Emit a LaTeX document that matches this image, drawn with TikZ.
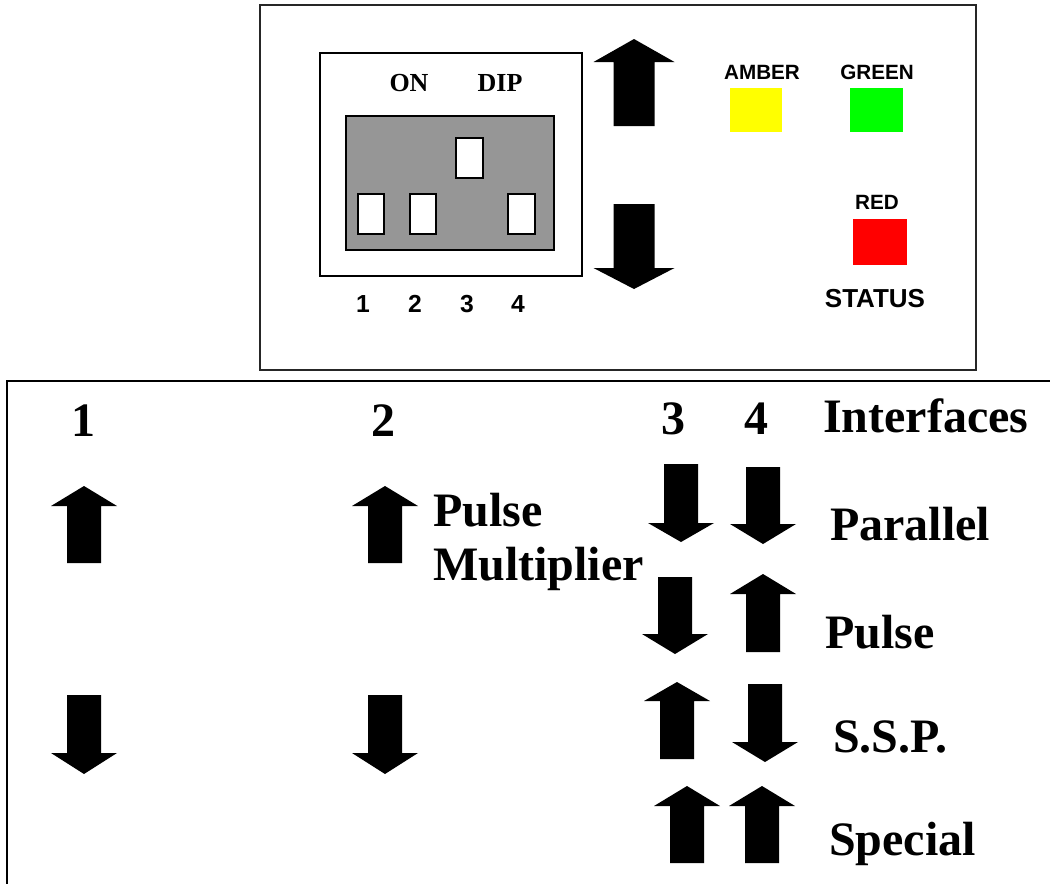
\documentclass[tikz,border=0pt]{standalone}
\usepackage{fontspec}
\setmainfont{Liberation Serif}
\setsansfont{Liberation Sans}
\definecolor{dipgray}{RGB}{150,150,150}
\definecolor{ledamber}{RGB}{255,255,0}
\definecolor{ledgreen}{RGB}{0,255,0}
\definecolor{ledred}{RGB}{255,0,0}
\newcommand{\blockarrow}[6]{%
  \fill[black] (#1-#5,#4) -- (#1-#5,#3) -- (#1-#6,#3) -- (#1,#2) -- (#1+#6,#3) -- (#1+#5,#3) -- (#1+#5,#4) -- cycle;}
\tikzset{
  panel/.style={draw=black!85, line width=1.5pt},
  switchbox/.style={draw=black, fill=white, line width=1.2pt},
  serlab/.style={font=\rmfamily\bfseries\fontsize{19.5}{22}\selectfont, inner sep=0pt, anchor=base},
  diglab/.style={font=\sffamily\bfseries\fontsize{18.5}{22}\selectfont, inner sep=0pt, anchor=base},
  ledlab/.style={font=\sffamily\bfseries\fontsize{15.5}{18}\selectfont, inner sep=0pt, anchor=base},
  statlab/.style={font=\sffamily\bfseries\fontsize{19.5}{22}\selectfont, inner sep=0pt, anchor=base},
  biglab/.style={font=\rmfamily\bfseries\fontsize{36}{40}\selectfont, inner sep=0pt, anchor=base},
  bigleft/.style={biglab, anchor=base west}
}
\begin{document}
\begin{tikzpicture}[x=0.75pt,y=-0.75pt]
\useasboundingbox (0,0) rectangle (1050,883);
% top panel
\draw[panel] (260,5) rectangle (976,370);
\draw[line width=1.2pt] (320,53) rectangle (582,276);
\fill[dipgray] (346,116) rectangle (554,250);
\draw[line width=1.2pt] (346,116) rectangle (554,250);
\draw[switchbox] (358,194) rectangle (384,234);
\draw[switchbox] (410,194) rectangle (436,234);
\draw[switchbox] (456,138) rectangle (483,178);
\draw[switchbox] (508,194) rectangle (535,234);
\node[serlab] (on) at (409,91) {ON};
\node[serlab] (dip) at (500,91) {DIP};
\node[diglab] (d1) at (363,312) {1};
\node[diglab] (d2) at (415,312) {2};
\node[diglab] (d3) at (467,312) {3};
\node[diglab] (d4) at (518,312) {4};
\blockarrow{634}{39}{62}{126}{20.5}{40.5}
\blockarrow{634}{289}{268}{204}{20.5}{40.5}
\fill[ledamber] (730,88) rectangle (782,132);
\fill[ledgreen] (850,88) rectangle (903,132);
\fill[ledred] (853,219) rectangle (907,265);
\node[ledlab] (amber) at (762,79) {AMBER};
\node[ledlab] (green) at (877,79) {GREEN};
\node[ledlab] (red) at (877,209) {RED};
\node[statlab] (status) at (875,307) {STATUS};
% bottom panel
\draw[black, line width=1.5pt] (7,900) -- (7,381) -- (1060,381);
\node[biglab] (b1) at (83,436) {1};
\node[biglab] (b2) at (383,436) {2};
\node[biglab] (b3) at (673,434) {3};
\node[biglab] (b4) at (756,434) {4};
\node[bigleft] (intf) at (823,432) {Interfaces};
\node[bigleft] (pm1) at (433,526) {Pulse};
\node[bigleft] (pm2) at (433,580) {Multiplier};
\node[bigleft] (par) at (830,540) {Parallel};
\node[bigleft] (pul) at (825,648) {Pulse};
\node[bigleft] (ssp) at (833,752) {S.S.P.};
\node[bigleft] (spe) at (829,855) {Special};
% column arrows
\blockarrow{84}{486}{506}{563}{17}{33}
\blockarrow{84}{774}{753}{695}{17}{33}
\blockarrow{385}{486}{506}{563}{17}{33}
\blockarrow{385}{774}{753}{695}{17}{33}
\blockarrow{681}{542}{523}{464}{17}{33}
\blockarrow{763}{544}{524}{467}{17}{33}
\blockarrow{675}{654}{634}{577}{17}{33}
\blockarrow{763}{574}{594}{652}{17}{33}
\blockarrow{677}{682}{701}{759}{17}{33}
\blockarrow{765}{762}{742}{684}{17}{33}
\blockarrow{687}{786}{806}{863}{17}{33}
\blockarrow{762}{786}{806}{863}{17}{33}
\end{tikzpicture}
\end{document}
